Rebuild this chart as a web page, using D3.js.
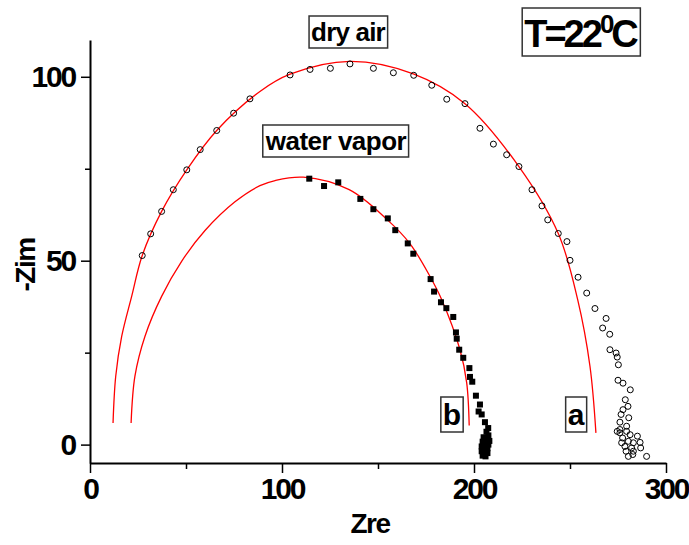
<!DOCTYPE html>
<html>
<head>
<meta charset="utf-8">
<script src="https://cdn.jsdelivr.net/npm/d3@7"></script>
<style>
  body { margin: 0; background: #fff; }
  text { font-family: "Liberation Sans", Arial, sans-serif; font-weight: bold; fill: #000; }
</style>
</head>
<body>
<div id="chart"></div>
<script>
// tick values
const xTicks = [0, 100, 200, 300];
const xMinor = [50, 150, 250];
const yTicks = [0, 50, 100];
const yMinor = [25, 75];

// curve a: dry air, measured points [Zre, -Zim]
const dryAir = [
  [27.2, 51.4], [31.6, 57.3], [37.3, 63.4], [43.4, 69.3], [50.4, 74.7], [57.4, 80.2],
  [66.0, 85.4], [74.8, 90.1], [83.3, 94.0], [104.2, 100.5], [114.6, 102.0], [125.2, 102.3],
  [135.4, 103.5], [147.6, 102.3], [158.0, 101.1], [168.6, 100.4], [178.0, 97.7], [185.8, 93.9],
  [195.3, 92.7], [203.1, 86.0], [210.1, 81.7], [217.0, 78.8], [223.4, 75.6], [230.2, 69.3],
  [235.4, 64.9], [238.4, 61.1], [243.9, 57.4], [248.4, 55.2], [250.0, 50.1], [254.2, 45.5],
  [258.7, 41.2], [263.0, 37.0], [268.8, 34.3], [267.0, 31.7], [270.7, 30.0], [270.8, 25.8],
  [274.0, 24.9], [274.6, 23.8], [275.2, 21.7], [275.0, 17.5], [277.6, 16.7], [281.4, 14.9],
  [278.8, 12.2], [280.2, 10.4], [277.6, 9.5], [276.6, 8.2], [280.6, 7.3], [276.0, 6.1],
  [279.5, 5.0], [276.0, 4.1], [274.6, 3.6], [276.0, 3.2], [279.5, 3.6], [281.3, 2.7],
  [277.4, 1.8], [285.1, 2.3], [276.9, 0.5], [280.4, 0.9], [283.0, 0.5], [286.5, 0.6],
  [278.6, -0.5], [282.1, -0.9], [279.2, -1.8], [283.0, -1.8], [286.8, -0.9], [280.4, -3.2],
  [282.7, -2.7], [289.9, -3.2]
];

// curve b: water vapor, measured points
const waterVapor = [
  [114.2, 72.3], [121.9, 70.3], [129.3, 71.3], [140.8, 66.8], [147.6, 64.0], [155.1, 61.5],
  [159.0, 58.3], [165.5, 54.7], [168.4, 51.9], [177.4, 45.0], [179.2, 41.6], [182.8, 38.7],
  [185.6, 37.1], [189.2, 34.7], [190.6, 30.5], [191.0, 28.8], [192.3, 25.8], [194.4, 23.6],
  [197.6, 20.8], [197.9, 18.4], [199.1, 17.1], [201.0, 13.3], [203.1, 10.9], [202.4, 9.0],
  [204.0, 8.2], [205.7, 6.1], [207.4, 4.5], [206.5, 3.5], [207.5, 2.5], [205.0, 2.0],
  [206.5, 1.5], [208.0, 1.0], [204.5, 0.8], [206.0, 0.5], [207.5, 0.0], [204.0, -0.5],
  [205.5, -0.8], [207.0, -1.0], [204.0, -1.8], [205.5, -2.2], [207.0, -2.3], [204.5, -3.0],
  [206.0, -3.2]
];

// fitted arcs (red)
const fitDry = [
  [12.0, 5.9], [13.4, 18.6], [16.5, 29.4], [21.7, 40.3], [27.2, 51.4], [37.3, 63.4],
  [50.4, 74.7], [66.0, 85.4], [88.5, 96.0], [104.2, 100.7], [135.4, 104.2], [168.4, 100.8],
  [195.3, 92.7], [223.4, 75.6], [243.9, 57.4], [254.0, 39.4], [260.4, 21.3], [263.5, 3.2]
];
const fitWater = [
  [21.4, 5.9], [23.4, 18.6], [28.6, 29.4], [37.3, 40.3], [47.8, 49.9], [59.9, 58.2],
  [75.5, 66.0], [88.5, 70.4], [96.4, 71.8], [111.1, 72.7], [135.0, 69.3], [154.5, 61.3],
  [166.7, 54.6], [177.1, 45.7], [183.2, 39.4], [192.7, 25.8], [196.2, 16.8], [197.5, 5.2]
];

const svg = d3.select('#chart').append('svg').attr('width', 689).attr('height', 545);

const margin = {top: 40, right: 23, bottom: 82, left: 90},
      width = +svg.attr('width') - margin.left - margin.right,
      height = +svg.attr('height') - margin.top - margin.bottom;

const x = d3.scaleLinear().domain([0, 300]).range([0, width]);
const y = d3.scaleLinear().domain([-5, 110]).range([height, 0]);

const g = svg.append('g')
    .attr('transform', `translate(${margin.left},${margin.top})`);

// axes
g.append('g')
    .attr('transform', `translate(0,${height})`)
    .call(d3.axisBottom(x).tickValues(xTicks).tickSize(10).tickPadding(5).tickSizeOuter(0));
g.append('g')
    .attr('transform', `translate(0,${height})`)
    .call(d3.axisBottom(x).tickValues(xMinor).tickSize(6).tickFormat('').tickSizeOuter(0))
    .select('.domain').remove();

g.append('g')
    .call(d3.axisLeft(y).tickValues(yTicks).tickSize(9).tickPadding(6).tickSizeOuter(0));
g.append('g')
    .call(d3.axisLeft(y).tickValues(yMinor).tickSize(5).tickFormat('').tickSizeOuter(0))
    .select('.domain').remove();

g.selectAll('.domain').attr('stroke', '#000').attr('stroke-width', 2);
g.selectAll('.tick line').attr('stroke', '#000').attr('stroke-width', 1.5);
g.selectAll('.tick text')
    .style('font-family', '"Liberation Sans", Arial, sans-serif')
    .style('font-weight', 'bold')
    .style('font-size', '30px')
    .style('letter-spacing', '-2.2px')
    .attr('fill', '#000');

// axis titles
svg.append('text')
    .attr('x', 370).attr('y', 533)
    .attr('text-anchor', 'middle')
    .style('font-size', '28px').style('letter-spacing', '-1.5px')
    .text('Zre');
svg.append('text')
    .attr('transform', 'translate(35,265) rotate(-90)')
    .attr('text-anchor', 'middle')
    .style('font-size', '28px').style('letter-spacing', '-1.5px')
    .text('-Zim');

// fitted curves
const line = d3.line()
    .x(d => x(d[0]))
    .y(d => y(d[1]))
    .curve(d3.curveCatmullRom);

[fitDry, fitWater].forEach(fit => {
  g.append('path')
      .datum(fit)
      .attr('fill', 'none')
      .attr('stroke', '#ff0000')
      .attr('stroke-width', 1.3)
      .attr('d', line);
});

// markers
g.selectAll('.dry')
    .data(dryAir)
    .enter().append('circle')
    .attr('class', 'dry')
    .attr('cx', d => x(d[0]))
    .attr('cy', d => y(d[1]))
    .attr('r', 3)
    .attr('fill', 'none')
    .attr('stroke', '#000')
    .attr('stroke-width', 1);

g.selectAll('.wet')
    .data(waterVapor)
    .enter().append('rect')
    .attr('class', 'wet')
    .attr('x', d => x(d[0]) - 3)
    .attr('y', d => y(d[1]) - 3)
    .attr('width', 6)
    .attr('height', 6)
    .attr('fill', '#000');

// boxed labels
function boxLabel(px, py, size, spacing, build) {
  const grp = svg.append('g');
  const t = grp.append('text')
      .attr('x', px).attr('y', py)
      .attr('text-anchor', 'middle')
      .style('font-size', size + 'px')
      .style('letter-spacing', spacing + 'px');
  build(t);
  const b = t.node().getBBox();
  grp.insert('rect', 'text')
      .attr('x', b.x - 2).attr('y', b.y - 1)
      .attr('width', b.width + 4).attr('height', b.height + 2)
      .attr('fill', '#fff')
      .attr('stroke', '#333')
      .attr('stroke-width', 1.5);
}

boxLabel(348, 41, 26, -0.8, t => t.text('dry air'));
boxLabel(336, 150, 26, -0.5, t => t.text('water vapor'));
boxLabel(452, 425, 30, 0, t => t.text('b'));
boxLabel(576, 425, 30, 0, t => t.text('a'));
boxLabel(580, 47, 38, -3, t => {
  t.append('tspan').text('T=22');
  t.append('tspan').attr('dy', -14).style('font-size', '26px').text('0');
  t.append('tspan').attr('dy', 14).text('C');
});
</script>
</body>
</html>
